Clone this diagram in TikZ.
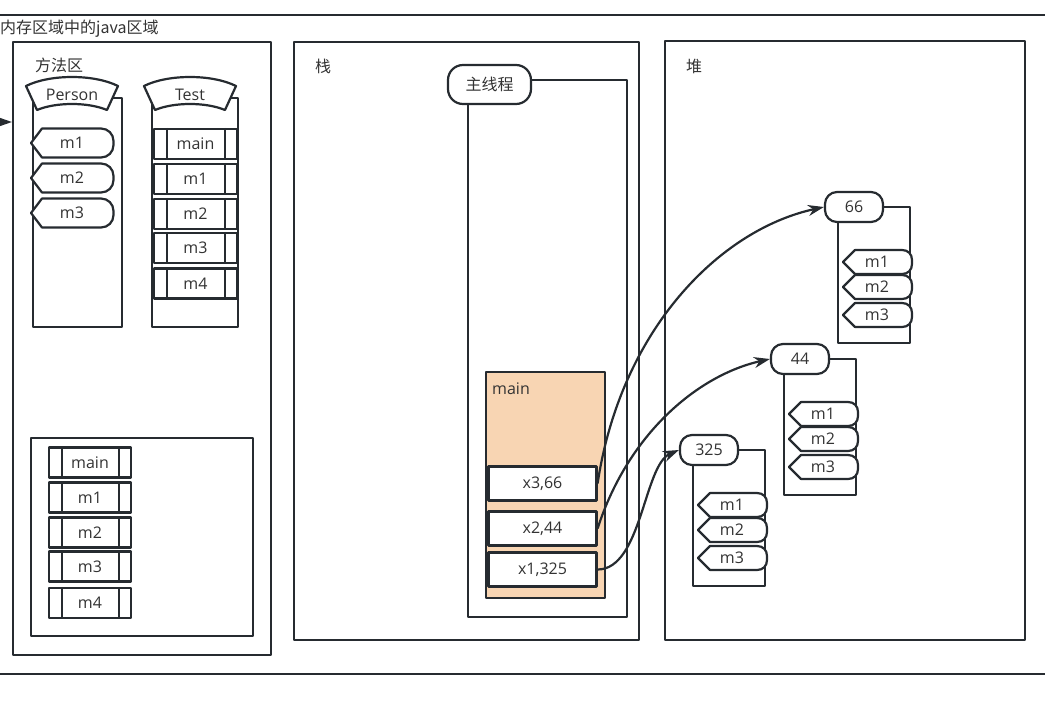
\documentclass[tikz,border=0pt]{standalone}
\usepackage{fontspec}
\setmainfont{Open Sans}
\newfontfamily\cjk{Noto Sans CJK SC}
\usepackage{tikz}
\usetikzlibrary{positioning, arrows.meta, calc, fit}
\definecolor{ink}{RGB}{38,43,48}
\definecolor{txt}{RGB}{51,51,51}
\definecolor{peach}{RGB}{248,213,179}
\newcommand\fs{\fontsize{16}{19}\selectfont}
\tikzset{
  ln/.style={draw=ink, line width=2.2pt},
  arr/.style={-{Stealth[length=16pt,width=11pt]}, draw=ink, line width=2.2pt},
  frm/.style={ln, inner sep=0pt},
  proc/.style={ln, fill=white, minimum width=83pt, minimum height=30pt, inner sep=0pt, text=txt},
  varb/.style={ln, fill=white, minimum width=108pt, minimum height=34pt, inner sep=0pt, text=txt},
  pill/.style={ln, fill=white, rounded corners=12pt, minimum width=58pt, minimum height=30pt,
    inner sep=0pt, text=txt},
  lab/.style={text=txt, inner sep=0pt, anchor=west},
  zh/.style={font=\cjk\fs}
}

\begin{document}
\begin{tikzpicture}[x=1pt, y=-1pt, font=\fs, line join=round]
\useasboundingbox (0,0) rectangle (1045,704);
% ---- outer java area (cut off left and right) ----
\node[frm, fit={(-20,15) (1065,674)}] (javaqu) {};
\node[lab, zh] (title) at (0,29) {内存区域中的java区域};
% ---- method area ----
\node[frm, fit={(13,42) (271,655)}] (fangfa) {};
\node[lab, zh] (fflab) at (35,65) {方法区};
\coordinate (ext) at (-20,122);
\draw[arr] (ext) -- (ext -| fangfa.west);
\node[frm, fit={(33,98) (122,327)}] (pcol) {};
\node[frm, fit={(152,98) (238,327)}] (tcol) {};
\foreach \cx/\t/\nm in {72/Person/person, 190/Test/test}{
  \draw[ln, fill=white] (\cx-46,86) .. controls (\cx-22,74) and (\cx+22,74) .. (\cx+46,86)
    -- (\cx+35,110) .. controls (\cx+16,102) and (\cx-16,102) .. (\cx-35,110) -- cycle;
  \node[text=txt] (\nm) at (\cx,95) {\t};
}
\foreach \y/\t in {143/m1, 178/m2, 213/m3}{
  \draw[ln, fill=white] (31,\y) -- (42,\y-14.5) -- (101,\y-14.5)
    .. controls (108,\y-14.5) and (113.5,\y-9) .. (113.5,\y-2) -- (113.5,\y+2)
    .. controls (113.5,\y+9) and (108,\y+14.5) .. (101,\y+14.5) -- (42,\y+14.5) -- cycle;
  \node[text=txt] (p\t) at (72,\y) {\t};
}
\foreach \y/\t in {144/main, 179/m1, 214/m2, 248/m3, 283.5/m4}{
  \node[proc] (t\t) at (195.5,\y) {\t};
  \draw[ln] ([xshift=14pt]t\t.north west) -- ([xshift=14pt]t\t.south west);
  \draw[ln] ([xshift=-13pt]t\t.north east) -- ([xshift=-13pt]t\t.south east);
}
\node[frm, fit={(31,438) (253,636)}] (lei) {};
\foreach \y/\t in {462.5/main, 497.5/m1, 532.5/m2, 566.5/m3, 603/m4}{
  \node[proc, minimum width=82pt] (b\t) at (90,\y) {\t};
  \draw[ln] ([xshift=14pt]b\t.north west) -- ([xshift=14pt]b\t.south west);
  \draw[ln] ([xshift=-13pt]b\t.north east) -- ([xshift=-13pt]b\t.south east);
}
% ---- stack ----
\node[frm, fit={(294,42) (639,640)}] (zhan) {};
\node[lab, zh] (zhanlab) at (315,66) {栈};
\node[frm, fit={(468,80) (627,617)}] (thread) {};
\node[pill, zh, rounded corners=15pt, minimum width=83pt, minimum height=39pt] (zxc) at (489.5,84.5) {主线程};
\node[frm, fill=peach, fit={(486,372) (605,598)}] (mframe) {};
\node[lab] (mlab) at (492,389) {main};
\foreach \y/\t/\n in {483.5/{x3,66}/v3, 528.5/{x2,44}/v2, 569.5/{x1,325}/v1}{
  \node[varb] (\n) at (542.5,\y) {\t};
}
% ---- heap ----
\node[frm, fit={(665,41) (1025,640)}] (dui) {};
\node[lab, zh] (duilab) at (686,66) {堆};
\foreach \lx/\ly/\v in {854/207/66, 800/359/44, 709/450/325}{
  \draw[ln] (\lx-16,\ly) rectangle (\lx+56,\ly+136);
  \node[pill] (o\v) at (\lx,\ly) {\v};
  \foreach \dy/\t in {55/m1, 80/m2, 108/m3}{
    \draw[ln, fill=white] (\lx-11,\ly+\dy) -- (\lx+1,\ly+\dy-12) -- (\lx+48,\ly+\dy-12)
      .. controls (\lx+54,\ly+\dy-12) and (\lx+58,\ly+\dy-8) .. (\lx+58,\ly+\dy-2) -- (\lx+58,\ly+\dy+2)
      .. controls (\lx+58,\ly+\dy+8) and (\lx+54,\ly+\dy+12) .. (\lx+48,\ly+\dy+12) -- (\lx+1,\ly+\dy+12) -- cycle;
    \node[text=txt] (o\v\t) at (\lx+23,\ly+\dy) {\t};
  }
}
% ---- references ----
\draw[arr] (v3.east) .. controls +(23,-153) and +(-105,23) .. (o66.west);
\draw[arr] (v2.east) .. controls +(31,-96) and +(-71,16) .. (o44.west);
\draw[arr] (v1.east) .. controls +(44,0) and +(-35,15) .. (o325.west);
\end{tikzpicture}
\end{document}
